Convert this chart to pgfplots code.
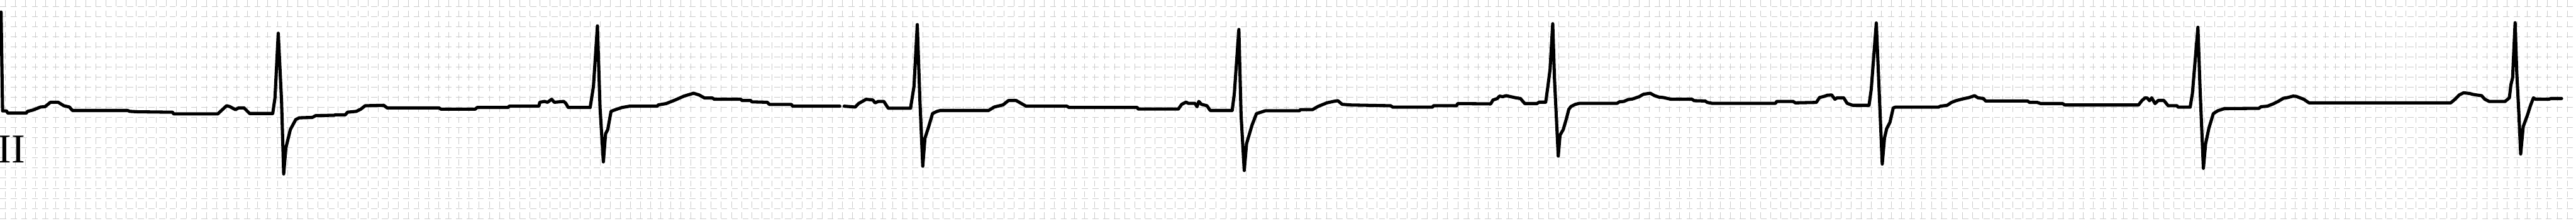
\documentclass[border=0pt]{standalone}
\usepackage{fontspec}
\setmainfont{Liberation Serif}
\usepackage{pgfplots}
\pgfplotsset{compat=1.18}
\begin{document}
\begin{tikzpicture}
\begin{axis}[
  name=ax,
  scale only axis,
  width=29.875cm, height=2.555cm,
  xmin=0, xmax=5975, ymin=0, ymax=511,
  y dir=reverse,
  axis line style={draw=none},
  tick style={draw=none},
  xtick={11.7,35.1,...,5975}, ytick={15,38.4,...,511},
  xticklabels={}, yticklabels={},
  grid=major,
  major grid style={gray!40, line width=0.2pt, dash pattern=on 2pt off 1.5pt},
  clip=true,
]
\addplot[black, line width=1.05pt, line join=round, line cap=round] coordinates {
(2.5,28)(6,257)(15,257)(18,262)(61,262)(64,258)(76.5,255)(94,248)(104.6,247)(117,237)(135,237)(148,245)(161,248)(168,256)(296,256)(301,258)(319,259)(400,260)(403,264)(505,264)(525.5,245)(533,247)(546,254)(553.6,250)(566,250)(579,263)(632.6,263)(637.8,227)(645.4,77)(653,233)(658,403)(663,343)(673.5,300)(686,277)(694,273)(724.5,272)(732,268)(775.5,267)(778,266)(801,266)(806,260)(826.5,258)(836.7,253)(847,245)(890,244)(898,250)(1018,250)(1023,253)(1102,253)(1107,249)(1178.6,249)(1181,246)(1250,246)(1252,237)(1263,235)(1270,237)(1279.6,230)(1285.7,237)(1307.7,235)(1312.8,240)(1317.9,249)(1368.9,249)(1376.5,200)(1385.7,60)(1391.8,250)(1399.5,375)(1404.6,310)(1409.7,300)(1417.3,258)(1425,255)(1442.9,249)(1460.7,246)(1524.5,246)(1527,243)(1545,240)(1565.3,232)(1585.7,223)(1608.7,216)(1621.4,220)(1634.2,227)(1652,227)(1657,230)(1718.4,230)(1721,233)(1741.3,233)(1743.9,236)(1779.6,237)(1784.7,242)(1835.7,242)(1838.3,246)(1948,246)
};
\addplot[black, line width=1.05pt, line join=round, line cap=round] coordinates {
(1958,246)(1983.7,248)(1991.3,240)(2009,230)(2024.5,231.7)(2029.6,238.3)(2037.2,235)(2050,235)(2060.2,250.7)(2112,250.7)(2120,200)(2127.6,57)(2133.7,233)(2140.3,385)(2145.4,320)(2153,297)(2163,263)(2173.5,258)(2181,256)(2293,256)(2306,248)(2326.5,243)(2339,233)(2357,233)(2380,246)(2474.5,246)(2479.6,249)(2637.8,249)(2640,252.7)(2733,252.7)(2741,241.7)(2751,236.7)(2756,239.3)(2771.4,239.3)(2776.5,247.3)(2780.6,235)(2786.7,241.7)(2799.5,245)(2807,256)(2858,256)(2863,216.7)(2873.5,68.3)(2878.6,266.7)(2886,395)(2891.3,333)(2904,290)(2914.3,263.3)(2934.7,256.7)(3013.8,256.7)(3016.3,254)(3044.4,254)(3057,246.7)(3077.6,238.3)(3093,235)(3103,233.3)(3113,241.7)(3133.7,243.3)(3225.5,245)(3230.6,248.3)(3322.4,248.3)(3325,245)(3378.6,245)(3381,240)(3457.7,240.7)(3462.8,231.7)(3473,228.3)(3478,222.7)(3485.7,224)(3493.4,221.7)(3516.3,226.7)(3526.5,228.3)(3536.7,240)(3564.8,240)(3570,236.7)(3585.2,236.7)(3590.3,200)(3595.4,160)(3601.5,55)(3605.6,183.3)(3614.3,361.7)(3618.4,313.3)(3626,300)(3633.7,273.3)(3638.8,253.3)(3643.9,246.7)(3654,241.7)(3664.3,239.3)(3751,239.3)(3756,236)(3766.3,235)(3776.5,230.7)(3786.7,229.3)(3802,224)(3812.2,218.3)(3827.6,216)(3837.8,221.7)(3848,225)(3858,226)(3876,230)(3924.5,230)(3929.6,233.3)(3955,234)(3960,237.3)(3970.4,239.3)(4118.4,239.3)(4121,235)(4159,235)(4164.3,238.3)(4212.8,237.3)(4220.4,226)(4233.2,222.7)(4238.3,220.7)(4248.5,220)(4256,230)(4261.2,226.7)(4276.5,226.7)(4284.2,239.3)(4297,244)(4335.2,244)(4340.3,206.7)(4352,53.3)(4358.2,200)(4365.8,380)(4371,320)(4376,298.3)(4383.7,283.3)(4391.3,250)(4396.4,248.3)(4496,248.3)(4501,246)(4516.3,244)(4526.5,237.3)(4536.7,233.3)(4552,229.3)(4567.3,226)(4580,221.7)(4587.8,226.7)(4600.5,228.3)(4605.6,234)(4702.6,234)(4707.7,237.3)(4725.5,237.3)(4733.2,240)(4784.2,240)(4789.3,243.3)(4960.2,243.3)(4967.9,233.3)(4975.5,226.7)(4980.6,227.3)(4985.7,233.3)(4990.8,226.7)(4998.5,240)(5006,232.7)(5018.9,232.7)(5029,245)(5049.5,245)(5052,248.3)(5080,248.3)(5085.2,216.7)(5098,63.3)(5103,206.7)(5110.7,390)(5115.8,333.3)(5123.5,296.7)(5133.7,263.3)(5143.9,256.7)(5159.2,251.7)(5239.5,251)(5244.5,247.3)(5259.3,246)(5274.1,240)(5284,235)(5296.4,227.7)(5306.3,226)(5318.6,222.7)(5326,223.3)(5343.4,230)(5355.7,238.3)(5684.4,238.3)(5694.3,230)(5704.2,220)(5714.1,215)(5728.9,216.7)(5733.8,218.3)(5743.7,220)(5756,221.7)(5763.5,230)(5773.4,235)(5810.5,235)(5820.4,226.7)(5823.9,196.7)(5827.9,180)(5833.7,52.7)(5837.5,166.7)(5842.6,266.7)(5846.6,356.7)(5852.5,293.3)(5862.3,266.7)(5869.8,243.3)(5876.2,226.7)(5881.1,230)(5911.8,230)(5916.7,228.3)(5941.5,228.3)
};
\node[anchor=base west, inner sep=0pt, font=\fontsize{13.5}{13.5}\selectfont] at (axis cs:-6,377) {II};
\end{axis}
\pgfresetboundingbox
\useasboundingbox (ax.south west) rectangle (ax.north east);
\end{tikzpicture}
\end{document}
